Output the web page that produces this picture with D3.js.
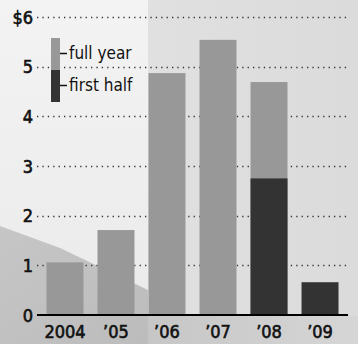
<!DOCTYPE html>
<html>
<head>
<meta charset="utf-8">
<script src="https://cdn.jsdelivr.net/npm/d3@7"></script>
<style>
  html, body { margin: 0; padding: 0; background: #dedede; }
  svg { display: block; }
  text { font-family: "DejaVu Sans Condensed", "DejaVu Sans", sans-serif; fill: #111; }
</style>
</head>
<body>
<script>
// Earnings per year, in dollars
const years = ["2004", "’05", "’06", "’07", "’08", "’09"];
const fullYear = [1.06, 1.71, 4.87, 5.54, 4.69, null];
const firstHalf = [null, null, null, null, 2.75, 0.66];
const yTicks = [0, 1, 2, 3, 4, 5, 6];
const yTickLabels = ["0", "1", "2", "3", "4", "5", "$6"];
const legendLabels = ["full year", "first half"];

const W = 358, H = 344;
const colFull = "#989898", colHalf = "#333333";

const svg = d3.select("body").append("svg").attr("width", W).attr("height", H);

// Backdrop: soft photographic wash
const defs = svg.append("defs");
const gLight = defs.append("linearGradient").attr("id", "light").attr("x1", 0).attr("y1", 0).attr("x2", 0).attr("y2", 1);
gLight.append("stop").attr("offset", 0).attr("stop-color", "#f3f3f3");
gLight.append("stop").attr("offset", 1).attr("stop-color", "#ebebeb");
const gRight = defs.append("linearGradient").attr("id", "right").attr("x1", 0).attr("y1", 0).attr("x2", 1).attr("y2", 0);
gRight.append("stop").attr("offset", 0).attr("stop-color", "#e4e4e4");
gRight.append("stop").attr("offset", 1).attr("stop-color", "#dbdbdb");
const gDark = defs.append("linearGradient").attr("id", "dark").attr("x1", 0).attr("y1", 0).attr("x2", 1).attr("y2", 1);
gDark.append("stop").attr("offset", 0).attr("stop-color", "#c6c6c6");
gDark.append("stop").attr("offset", 1).attr("stop-color", "#bcbcbc");
const gStrip = defs.append("linearGradient").attr("id", "strip").attr("x1", 0).attr("y1", 0).attr("x2", 1).attr("y2", 0);
gStrip.append("stop").attr("offset", 0).attr("stop-color", "#c6c6c6");
gStrip.append("stop").attr("offset", 1).attr("stop-color", "#d6d6d6");

svg.append("rect").attr("width", W).attr("height", H).attr("fill", "url(#right)");
svg.append("rect").attr("x", 0).attr("y", 0).attr("width", 148).attr("height", 300).attr("fill", "url(#light)");
svg.append("path").attr("d", "M0,226 L60,248 L148,290 L148,344 L0,344 Z").attr("fill", "url(#dark)");
svg.append("rect").attr("x", 148).attr("y", 316).attr("width", 210).attr("height", 28).attr("fill", "url(#strip)");

const y = d3.scaleLinear().domain([0, 6]).range([315, 17]);
const x = d3.scaleBand().domain(years).range([37, 348]).paddingInner(0.275).paddingOuter(0.186);

// Dotted gridlines
svg.append("g").selectAll("line").data(yTicks.filter(d => d > 0)).join("line")
  .attr("x1", 37).attr("x2", 349)
  .attr("y1", d => Math.round(y(d)) + 0.5).attr("y2", d => Math.round(y(d)) + 0.5)
  .attr("stroke", "#333").attr("stroke-width", 1.3)
  .attr("stroke-dasharray", "1.3,4.1");

// Y tick labels
svg.append("g").selectAll("text").data(yTicks).join("text")
  .attr("x", 33).attr("y", d => y(d) + 6.5)
  .attr("text-anchor", "end")
  .attr("font-size", 18)
  .attr("stroke", "#111").attr("stroke-width", 0.6)
  .text((d, i) => yTickLabels[i]);

// Full-year bars
svg.append("g").selectAll("rect").data(years.map((c, i) => ({ c, v: fullYear[i] })).filter(d => d.v != null)).join("rect")
  .attr("x", d => x(d.c)).attr("width", x.bandwidth())
  .attr("y", d => y(d.v)).attr("height", d => y(0) - y(d.v))
  .attr("fill", colFull);

// First-half bars
svg.append("g").selectAll("rect").data(years.map((c, i) => ({ c, v: firstHalf[i] })).filter(d => d.v != null)).join("rect")
  .attr("x", d => x(d.c)).attr("width", x.bandwidth())
  .attr("y", d => y(d.v)).attr("height", d => y(0) - y(d.v))
  .attr("fill", colHalf);

// Baseline
svg.append("line").attr("x1", 37).attr("x2", 348).attr("y1", y(0)).attr("y2", y(0))
  .attr("stroke", "#000").attr("stroke-width", 2.2);

// X labels
svg.append("g").selectAll("text").data(years).join("text")
  .attr("x", d => x(d) + x.bandwidth() / 2).attr("y", 338)
  .attr("text-anchor", "middle")
  .attr("font-size", 18)
  .attr("stroke", "#111").attr("stroke-width", 0.6)
  .text(d => d);

// Legend
const leg = svg.append("g");
leg.append("rect").attr("x", 51).attr("y", 38).attr("width", 9).attr("height", 32).attr("fill", colFull);
leg.append("rect").attr("x", 51).attr("y", 70).attr("width", 9).attr("height", 32).attr("fill", colHalf);
[53.5, 85.5].forEach((ly, i) => {
  leg.append("line").attr("x1", 60).attr("x2", 67).attr("y1", ly).attr("y2", ly)
    .attr("stroke", "#111").attr("stroke-width", 1.5);
  leg.append("text").attr("x", 69).attr("y", ly + 5.5)
    .attr("font-size", 17)
    .text(legendLabels[i]);
});
</script>
</body>
</html>
